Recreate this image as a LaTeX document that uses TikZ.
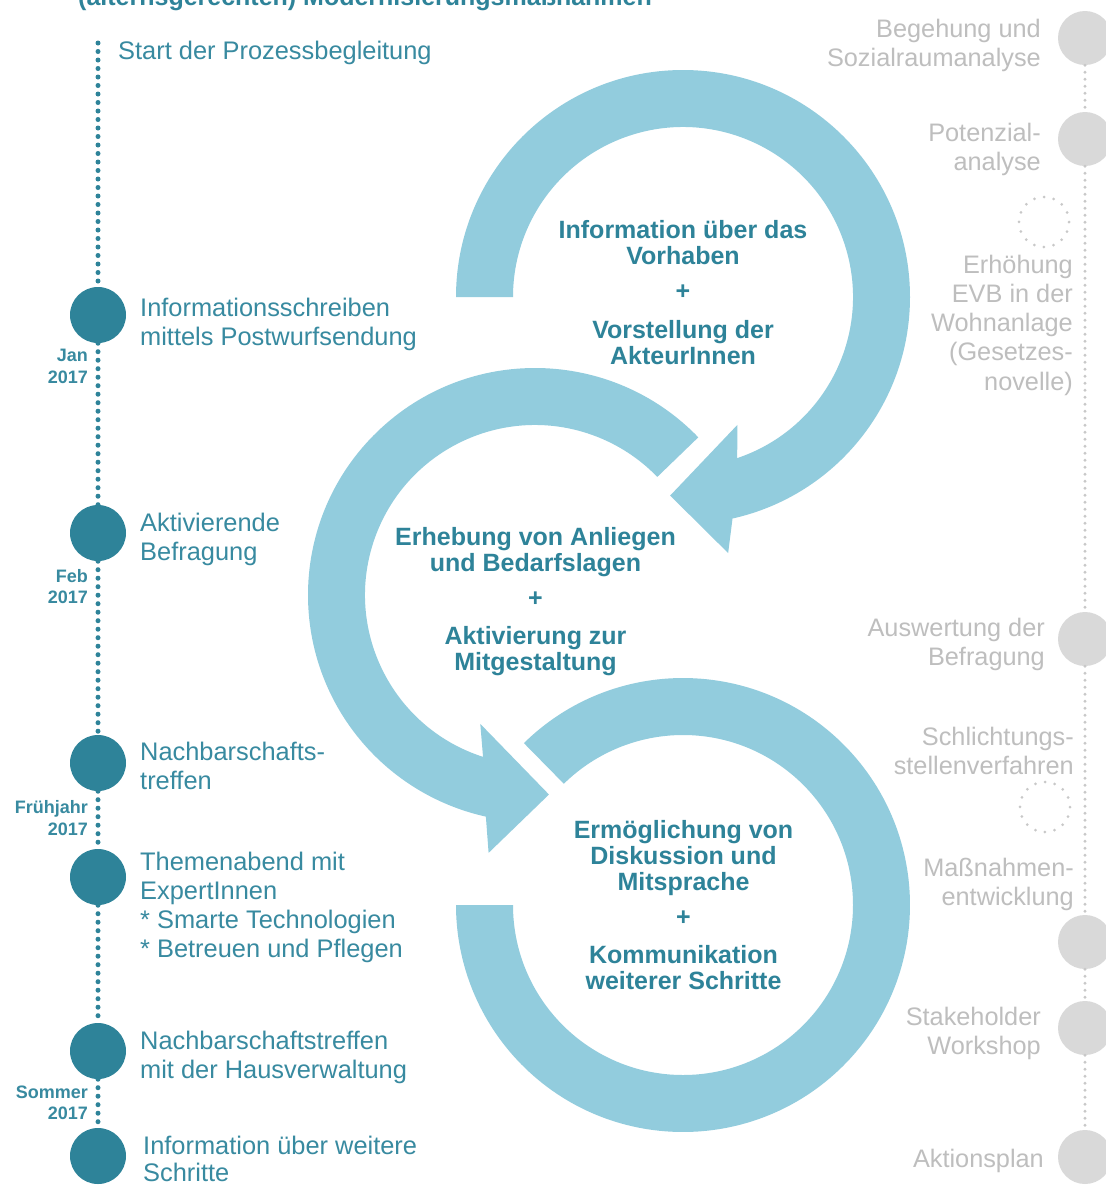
\documentclass[tikz,border=0pt]{standalone}
\usepackage{fontspec}
\setmainfont{Liberation Sans}
\definecolor{tealtxt}{RGB}{56,138,160}
\definecolor{tealdark}{RGB}{46,131,153}
\definecolor{arrowblue}{RGB}{146,204,221}
\definecolor{graycirc}{RGB}{217,217,217}
\definecolor{graytxt}{RGB}{190,190,190}
\definecolor{graydot}{RGB}{200,200,200}
\newcommand\LinesL[2]{\vtop{\baselineskip=#1\lineskip=0pt\lineskiplimit=-\maxdimen\halign{##\hfil\cr#2\crcr}}}
\newcommand\LinesR[2]{\vtop{\baselineskip=#1\lineskip=0pt\lineskiplimit=-\maxdimen\halign{\hfil##\cr#2\crcr}}}
\newcommand\LinesC[2]{\vtop{\baselineskip=#1\lineskip=0pt\lineskiplimit=-\maxdimen\halign{\hfil##\hfil\cr#2\crcr}}}
\tikzset{
  lbl/.style={inner sep=0pt, text=tealtxt, font=\fontsize{25.4}{29}\selectfont, anchor=base west},
  rlbl/.style={inner sep=0pt, text=graytxt, font=\fontsize{25.3}{29}\selectfont, anchor=base east},
  datelbl/.style={inner sep=0pt, text=tealtxt, font=\bfseries\fontsize{18}{22}\selectfont, anchor=base east},
  ctr/.style={inner sep=0pt, text=tealdark, font=\bfseries\fontsize{25}{27}\selectfont, anchor=base},
  headlbl/.style={inner sep=0pt, text=tealdark, font=\bfseries\fontsize{25}{29}\selectfont, anchor=base west},
  dotL/.style={circle, fill=tealdark, minimum size=56pt, inner sep=0pt},
  dotR/.style={circle, fill=graycirc, minimum size=54pt, inner sep=0pt},
  dotE/.style={circle, draw=graydot, line width=3pt, dash pattern=on 0pt off 9.8pt, line cap=round, minimum size=50pt, inner sep=0pt},
  tlineL/.style={draw=tealdark, line width=5pt, line cap=round, dash pattern=on 0pt off 8.5pt},
  tlineR/.style={draw=graydot, line width=3.3pt, line cap=round, dash pattern=on 0pt off 7pt},
  band/.style={fill=arrowblue}
}
\begin{document}
\begin{tikzpicture}[x=1pt,y=1pt]
\useasboundingbox (0,0) rectangle (1106,-1187);
\clip (0,0) rectangle (1106,-1187);
\fill[white] (0,0) rectangle (1106,-1187);

% circular arrows
\begin{scope}[shift={(683,-297)}]
  \fill[band] (180:227) arc[start angle=180,end angle=-77.4,radius=227] -- (-80:260) -- (-93.7:199) -- (-67:139) -- (-71.4:170) arc[start angle=-71.4,end angle=180,radius=170] -- cycle;
\end{scope}
\begin{scope}[shift={(535,-595)}]
  \fill[band] (44:227) arc[start angle=44,end angle=257.5,radius=227] -- (259.8:262) -- (274:200) -- (247:140) -- (252.2:170) arc[start angle=252.2,end angle=44,radius=170] -- cycle;
\end{scope}
\begin{scope}[shift={(683,-905)}]
  \fill[band] (134.5:227) arc[start angle=134.5,end angle=-180,radius=227] -- (-180:170) arc[start angle=-180,end angle=134.5,radius=170] -- cycle;
\end{scope}

% header (cut at top, as in the reference)
\node[headlbl] (head) at (78,-5) {(alternsgerechten) Modernisierungsmaßnahmen};

% left timeline
\node[dotL] (L1) at (98,-315) {};
\node[dotL] (L2) at (98,-533) {};
\node[dotL] (L3) at (98,-763) {};
\node[dotL] (L4) at (98,-877) {};
\node[dotL] (L5) at (98,-1051) {};
\node[dotL] (L6) at (98,-1156) {};
\coordinate (Ltop) at (98,-43);
\draw[tlineL] (Ltop) -- (L1) -- (L2) -- (L3) -- (L4) -- (L5) -- (L6);

\node[lbl] (tStart) at (118,-59) {Start der Prozessbegleitung};
\node[lbl] (tInfo) at (140,-316) {\LinesL{29pt}{Informationsschreiben\cr mittels Postwurfsendung}};
\node[lbl] (tAkt) at (140,-531) {\LinesL{29pt}{Aktivierende\cr Befragung}};
\node[lbl] (tNach) at (140,-760) {\LinesL{29pt}{Nachbarschafts-\cr treffen}};
\node[lbl] (tThema) at (140,-870) {\LinesL{29.3pt}{Themenabend mit\cr ExpertInnen\cr * Smarte Technologien\cr * Betreuen und Pflegen}};
\node[lbl] (tHaus) at (140,-1049) {\LinesL{29pt}{Nachbarschaftstreffen\cr mit der Hausverwaltung}};
\node[lbl] (tWeiter) at (143,-1154) {\LinesL{27pt}{Information über weitere\cr Schritte}};

\node[datelbl] (dJan) at (88,-361) {\LinesR{22pt}{Jan\cr 2017}};
\node[datelbl] (dFeb) at (88,-582) {\LinesR{21pt}{Feb\cr 2017}};
\node[datelbl] (dFrueh) at (88,-813) {\LinesR{22pt}{Frühjahr\cr 2017}};
\node[datelbl] (dSommer) at (88,-1098) {\LinesR{21pt}{Sommer\cr 2017}};

% right timeline
\node[dotR] (R1) at (1085,-38) {};
\node[dotR] (R2) at (1085,-139) {};
\node[dotR] (R3) at (1085,-639) {};
\node[dotR] (R4) at (1085,-942) {};
\node[dotR] (R5) at (1085,-1028) {};
\node[dotR] (R6) at (1085,-1157) {};
\draw[tlineR] (R1) -- (R2) -- (R3) -- (R4) -- (R5) -- (R6);
\node[dotE] (E1) at (1044,-222) {};
\node[dotE] (E2) at (1045,-807) {};

\node[rlbl] (rBeg) at (1041,-37) {\LinesR{29pt}{Begehung und\cr Sozialraumanalyse}};
\node[rlbl] (rPot) at (1041,-141) {\LinesR{29pt}{Potenzial-\cr analyse}};
\node[rlbl] (rEVB) at (1073,-273) {\LinesR{29.3pt}{Erhöhung\cr EVB in der\cr Wohnanlage\cr (Gesetzes-\cr novelle)}};
\node[rlbl] (rAus) at (1045,-636) {\LinesR{29pt}{Auswertung der\cr Befragung}};
\node[rlbl] (rSchl) at (1074,-745) {\LinesR{29pt}{Schlichtungs-\cr stellenverfahren}};
\node[rlbl] (rMass) at (1074,-876) {\LinesR{29pt}{Maßnahmen-\cr entwicklung}};
\node[rlbl] (rStake) at (1041,-1025) {\LinesR{29pt}{Stakeholder\cr Workshop}};
\node[rlbl] (rAktion) at (1044,-1167) {Aktionsplan};

% centre texts
\node[ctr] (c1) at (683,-238) {\LinesC{26.5pt}{Information über das\cr Vorhaben\cr\noalign{\vskip8pt}+\cr\noalign{\vskip12.5pt}Vorstellung der\cr AkteurInnen}};
\node[ctr] (c2) at (535.5,-545) {\LinesC{26pt}{Erhebung von Anliegen\cr und Bedarfslagen\cr\noalign{\vskip9pt}+\cr\noalign{\vskip12pt}Aktivierung zur\cr Mitgestaltung}};
\node[ctr] (c3) at (683.5,-838) {\LinesC{26pt}{Ermöglichung von\cr Diskussion und\cr Mitsprache\cr\noalign{\vskip9pt}+\cr\noalign{\vskip12pt}Kommunikation\cr weiterer Schritte}};
\end{tikzpicture}
\end{document}
